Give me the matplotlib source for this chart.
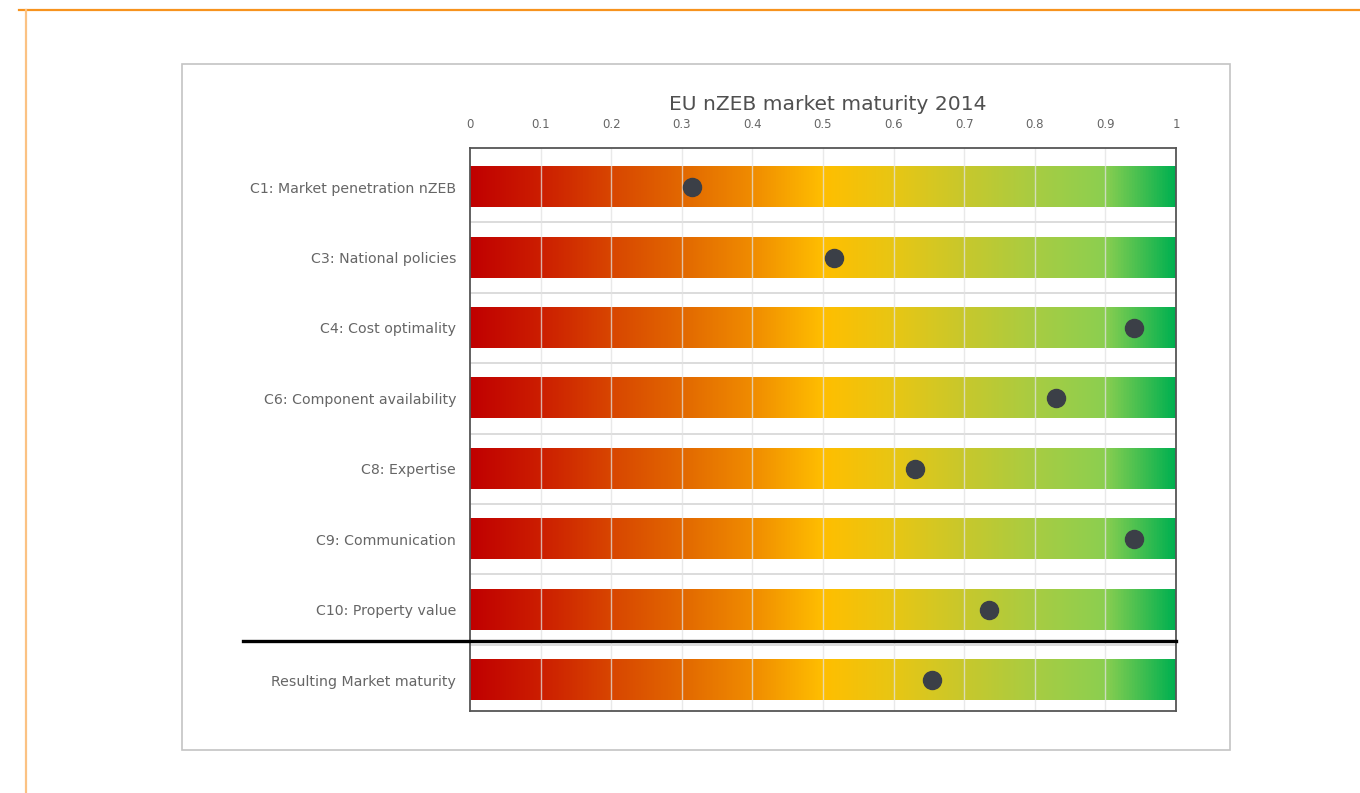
import numpy as np
import matplotlib
matplotlib.use('Agg')
import matplotlib.pyplot as plt
from matplotlib.colors import LinearSegmentedColormap
from matplotlib.patches import Rectangle
from matplotlib.lines import Line2D

# data
categories = ['C1: Market penetration nZEB',
              'C3: National policies',
              'C4: Cost optimality',
              'C6: Component availability',
              'C8: Expertise',
              'C9: Communication',
              'C10: Property value',
              'Resulting Market maturity']
scores = [0.315, 0.515, 0.94, 0.83, 0.63, 0.94, 0.735, 0.655]
tick_values = [0, 0.1, 0.2, 0.3, 0.4, 0.5, 0.6, 0.7, 0.8, 0.9, 1.0]
tick_labels = ['0', '0.1', '0.2', '0.3', '0.4', '0.5', '0.6', '0.7', '0.8', '0.9', '1']
title = 'EU nZEB market maturity 2014'

# red -> amber -> green scale used for the bars
grad_stops = [(0.0, '#c00000'), (0.1, '#cc1e00'), (0.2, '#d84600'),
              (0.3, '#e26800'), (0.4, '#f08c00'), (0.5, '#ffbe00'),
              (0.6, '#e8c614'), (0.7, '#c8c82c'), (0.8, '#a8cc42'),
              (0.9, '#8ccf50'), (1.0, '#00b050')]
cmap = LinearSegmentedColormap.from_list('maturity', grad_stops)

fig = plt.figure(figsize=(13.6, 7.93), dpi=100)

# page frame (orange) and chart box (grey)
fig.add_artist(Line2D([19/1360, 1.0], [1 - 10/793, 1 - 10/793],
                      color='#f7931e', lw=1.6, transform=fig.transFigure))
fig.add_artist(Line2D([26/1360, 26/1360], [0, 1 - 10/793],
                      color='#fbc283', lw=1.6, transform=fig.transFigure))
fig.add_artist(Rectangle((182/1360, 1 - 750/793), (1230-182)/1360, (750-64)/793,
                         transform=fig.transFigure, fill=False,
                         edgecolor='#c4c4c4', lw=1.2))

ax = fig.add_axes([470/1360, 82/793, 706/1360, 563/793])

bar_h = 0.57
grad = np.linspace(0, 1, 512).reshape(1, -1)
for i, (cat, val) in enumerate(zip(categories, scores)):
    ax.imshow(grad, extent=[0, 1, i + bar_h/2, i - bar_h/2], aspect='auto',
              cmap=cmap, zorder=1, interpolation='bilinear')
    ax.plot(val, i, 'o', color='#3b3f47', markersize=13, zorder=4)

# grid lines
for x in tick_values[1:-1]:
    ax.axvline(x, color='#e2e2e2', lw=1.0, alpha=0.75, zorder=2)
for i in range(len(categories) - 1):
    ax.axhline(i + 0.5, color='#d6d6d6', lw=1.2, zorder=0.5)

# separator before the resulting score, sticking out to the left
sep_y = len(categories) - 1.55
ax.plot([-0.322, 1.0], [sep_y, sep_y], color='black', lw=2.4,
        transform=ax.get_yaxis_transform(), clip_on=False, zorder=5)

ax.set_xlim(0, 1)
ax.set_ylim(len(categories) - 0.56, -0.555)

ax.xaxis.tick_top()
ax.set_xticks(tick_values)
ax.set_xticklabels(tick_labels, fontsize=8.5, color='#666666')
ax.set_yticks(range(len(categories)))
ax.set_yticklabels(categories, fontsize=10.2, color='#666666')
ax.tick_params(axis='x', length=0, pad=12)
ax.tick_params(axis='y', length=0, pad=10)

for s in ax.spines.values():
    s.set_color('#555555')
    s.set_linewidth(1.3)

fig.text(828/1360, 1 - 104/793, title, fontsize=14.6, color='#505050',
         ha='center', va='center')

fig.savefig('out.png', dpi=100, facecolor='white')
